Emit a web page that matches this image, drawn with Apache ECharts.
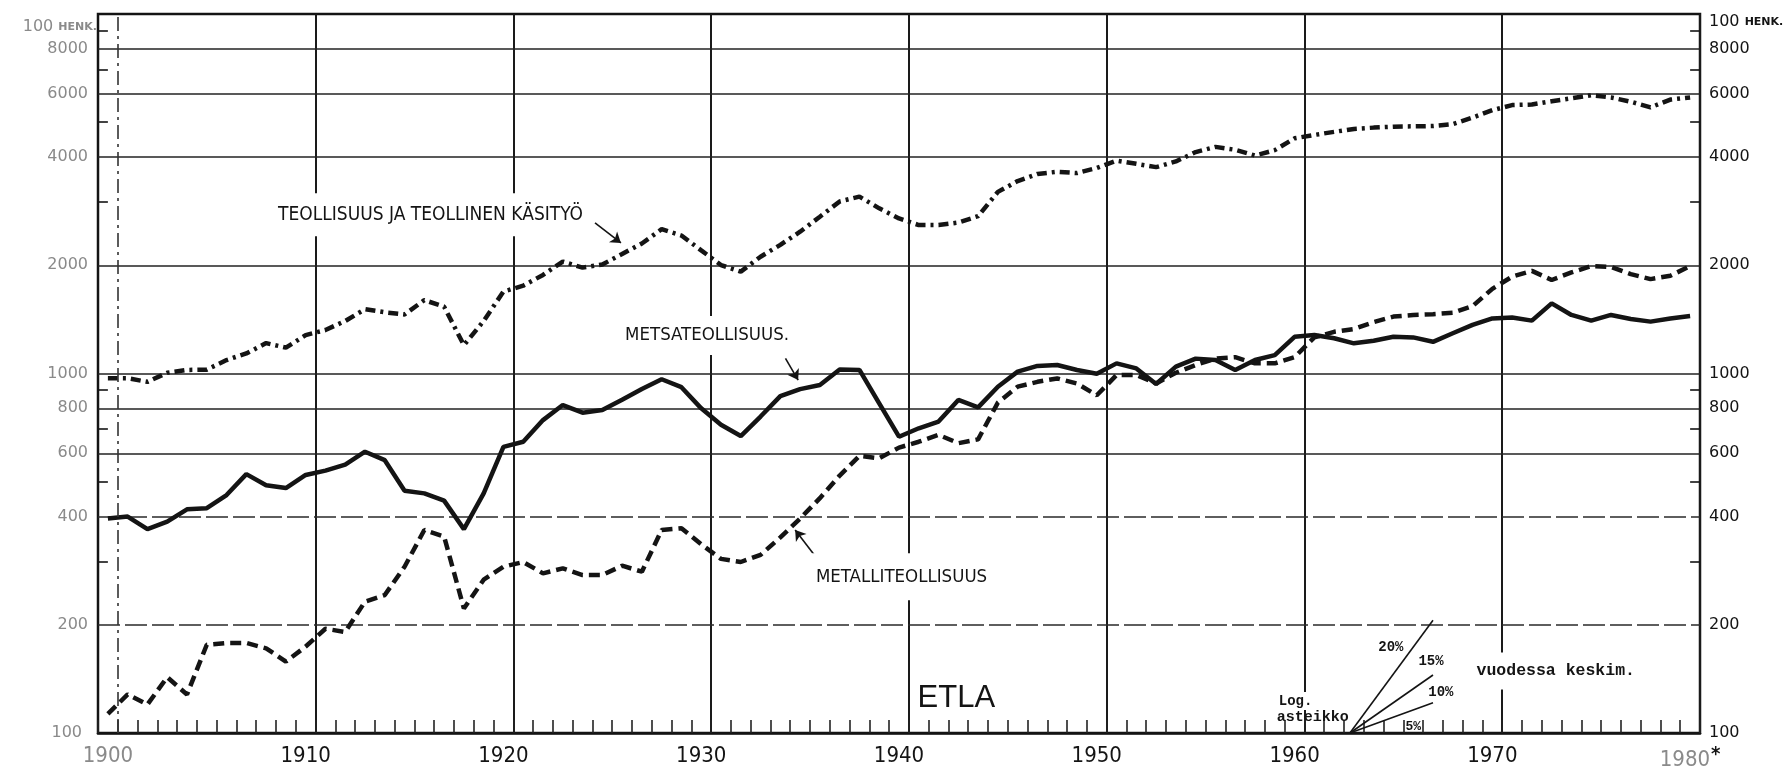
<!DOCTYPE html>
<html>
<head>
<meta charset="utf-8">
<script src="https://cdn.jsdelivr.net/npm/echarts@6/dist/echarts.min.js"></script>
<style>
html,body{margin:0;padding:0;background:#fff;}
#c{width:1792px;height:774px;}
</style>
</head>
<body>
<div id="c"></div>
<script>
// ---------- DATA ----------
const years = ['1900','1901','1902','1903','1904','1905','1906','1907','1908','1909',
  '1910','1911','1912','1913','1914','1915','1916','1917','1918','1919',
  '1920','1921','1922','1923','1924','1925','1926','1927','1928','1929',
  '1930','1931','1932','1933','1934','1935','1936','1937','1938','1939',
  '1940','1941','1942','1943','1944','1945','1946','1947','1948','1949',
  '1950','1951','1952','1953','1954','1955','1956','1957','1958','1959',
  '1960','1961','1962','1963','1964','1965','1966','1967','1968','1969',
  '1970','1971','1972','1973','1974','1975','1976','1977','1978','1979','1980'];

// Teollisuus ja teollinen käsityö (100 henk.)
const teollisuus = [970,970,948,1005,1023,1025,1090,1137,1215,1180,
  1279,1321,1400,1510,1480,1460,1600,1534,1199,1400,
  1690,1755,1880,2048,1970,2010,2150,2300,2520,2420,
  2200,2003,1920,2113,2280,2480,2730,3010,3104,2880,
  2700,2588,2588,2630,2740,3200,3430,3590,3640,3610,
  3730,3910,3830,3750,3890,4130,4270,4190,4040,4180,
  4510,4610,4700,4790,4830,4860,4870,4880,4940,5150,
  5400,5580,5600,5720,5830,5940,5860,5700,5500,5780,5860];

// Metsäteollisuus
const metsateollisuus = [395,400,369,387,419,422,459,525,489,480,
  522,537,558,606,574,472,464,443,369,464,
  625,646,742,817,778,791,845,905,964,916,
  800,720,670,759,865,905,929,1026,1023,826,
  667,704,735,844,805,919,1012,1050,1056,1023,
  998,1067,1033,935,1045,1100,1090,1023,1090,1125,
  1265,1279,1253,1213,1233,1265,1260,1225,1294,1365,
  1423,1432,1403,1567,1455,1403,1455,1418,1394,1423,1445];

// Metalliteollisuus
const metalliteollisuus = [113,128,120,143,128,176,178,178,172,158,
  174,195,191,232,242,290,367,352,222,267,
  290,299,278,287,275,275,292,281,367,371,
  335,305,299,313,350,395,450,520,590,581,
  622,646,675,640,656,830,919,948,969,938,
  870,990,990,938,1005,1056,1100,1110,1067,1067,
  1110,1260,1306,1330,1390,1440,1455,1462,1475,1540,
  1720,1860,1930,1820,1910,1990,1980,1890,1830,1870,1990];

// Axis tick labels
const yGridValues = [200, 400, 600, 800, 1000, 2000, 4000, 6000, 8000];
const yMinorTicks = [300, 500, 700, 900, 3000, 5000, 7000, 9000];
const topLabelValue = 10000;   // "100 HENK."
const bottomLabelValue = 100;

// ---------- STYLE ----------
const INK = '#141414';
const FADED = '#8a8a8a';
const NARROW = '"Liberation Sans Narrow","DejaVu Sans Condensed","Liberation Sans",sans-serif';
const MONO = '"Liberation Mono","DejaVu Sans Mono",monospace';
const YFONT = '"DejaVu Sans","Liberation Sans",sans-serif';

// annotation placements (year, value) on the chart's own scales
const textNotes = [
  {text:'TEOLLISUUS JA TEOLLINEN KÄSITYÖ', at:[1907.9, 2763], align:'left', font:NARROW, size:19, pad:[12,4], bg:true},
  {text:'METSATEOLLISUUS.', at:[1925.45, 1276], align:'left', font:NARROW, size:18.5, pad:[10,4], bg:true},
  {text:'METALLITEOLLISUUS', at:[1935.1, 272], align:'left', font:NARROW, size:18.5, pad:[14,4], bg:true},
  {text:'ETLA', at:[1942.4, 125], align:'center', font:'"Liberation Sans",sans-serif', size:31, pad:[0,0], bg:false},
  {text:'Log.', at:[1958.6, 122.7], align:'left', font:MONO, size:14, pad:[2,2], bg:true, bold:true},
  {text:'asteikko', at:[1958.6, 110.8], align:'left', font:MONO, size:15, pad:[0,0], bg:false, bold:true},
  {text:'20%', at:[1964.37, 173.5], align:'center', font:MONO, size:14, pad:[0,0], bg:false, bold:true},
  {text:'15%', at:[1966.4, 158.6], align:'center', font:MONO, size:14, pad:[0,0], bg:false, bold:true},
  {text:'10%', at:[1966.9, 130], align:'center', font:MONO, size:14, pad:[0,0], bg:false, bold:true},
  {text:'5%', at:[1965.5, 103.9], align:'center', font:MONO, size:13, pad:[0,0], bg:false, bold:true},
  {text:'vuodessa keskim.', at:[1968.5, 148.8], align:'left', font:MONO, size:16.5, pad:[10,4], bg:true, bold:true}
];
const arrows = [
  [[1924.13, 2623], [1925.44, 2307]],
  [[1933.76, 1102], [1934.40, 959]],
  [[1935.21, 313], [1934.25, 367]]
];
const fanOrigin = [1962.3, 100];
const fanEnds = [[1966.5, 206], [1966.5, 145], [1966.5, 121.4]];

// ---------- CHART ----------
const chart = echarts.init(document.getElementById('c'), null, {renderer:'canvas'});

const leftLabelItems = yGridValues.map(v => ({
  yAxis: v,
  lineStyle: (v === 200 || v === 400) ? {type:[22,5], width:1.5, color:'#2a2a2a'} : {type:'solid', width:1.5, color:'#222'},
  label: {formatter: String(v)}
}));
leftLabelItems.push({yAxis: bottomLabelValue, lineStyle:{width:0, color:'rgba(0,0,0,0)'},
  label:{formatter:'100', padding:[0,6,24,0]}});
leftLabelItems.push({yAxis: topLabelValue, lineStyle:{width:0, color:'rgba(0,0,0,0)'},
  label:{formatter:'{n|100} {h|HENK.}', distance:1, padding:[26,0,0,0],
    rich:{n:{fontSize:16, color:FADED, fontFamily:YFONT}, h:{fontSize:11, fontWeight:'bold', color:FADED, fontFamily:YFONT}}}});

const rightLabelItems = yGridValues.map(v => ({
  yAxis: v, label: {formatter: String(v)}
}));
rightLabelItems.push({yAxis: bottomLabelValue, label:{formatter:'100', padding:[0,0,18,0]}});
rightLabelItems.push({yAxis: topLabelValue, label:{formatter:'{n|100} {h|HENK.}', padding:[16,0,0,0],
  rich:{n:{fontSize:16, color:INK, fontFamily:YFONT}, h:{fontSize:11, fontWeight:'bold', color:INK, fontFamily:YFONT}}}});

const tickItems = [];
yMinorTicks.forEach(v => {
  tickItems.push([{coord:[1899, v]}, {coord:[1899.5, v]}]);
  tickItems.push([{coord:[1979.5, v]}, {coord:[1980, v]}]);
});

const option = {
  animation: false,
  backgroundColor: '#ffffff',
  grid: {left: 98, right: 92, top: 14, bottom: 41, show: true,
    borderColor: INK, borderWidth: 2.5, backgroundColor: 'rgba(0,0,0,0)'},
  xAxis: [
    {
      type: 'category', data: years, boundaryGap: true, position: 'bottom',
      axisLine: {show: true, lineStyle: {color: INK, width: 2.5}},
      axisTick: {show: true, inside: true, length: 13, interval: 0, lineStyle: {color: '#222', width: 1.6}},
      axisLabel: {
        interval: (i, v) => Number(v) % 10 === 0,
        margin: 12,
        formatter: v => v === '1900' ? '{f|1900}' : (v === '1980' ? '{f|1980}{s|*}' : '{d|' + v + '}'),
        rich: {
          d: {fontFamily: NARROW, fontSize: 22, color: INK},
          f: {fontFamily: NARROW, fontSize: 22, color: FADED},
          s: {fontFamily: NARROW, fontSize: 20, color: INK, fontWeight: 'bold', verticalAlign: 'top', padding: [0, 0, 10, 1]}
        }
      },
      splitLine: {show: true, interval: (i, v) => (Number(v) - 1) % 10 === 0 && v !== '1901',
        lineStyle: {color: '#1a1a1a', width: 2}}
    },
    {type: 'value', min: 1899, max: 1980, show: false}
  ],
  yAxis: [{
    type: 'log', logBase: 10, min: 100, max: 10000,
    axisLine: {show: false}, axisTick: {show: false}, axisLabel: {show: false}, splitLine: {show: false}
  }],
  series: [
    {
      name: 'TEOLLISUUS JA TEOLLINEN KÄSITYÖ', type: 'line', data: teollisuus,
      xAxisIndex: 0, yAxisIndex: 0, symbol: 'none', z: 5,
      lineStyle: {color: INK, width: 4.5, type: [10, 5, 3, 5]}
    },
    {
      name: 'METSATEOLLISUUS', type: 'line', data: metsateollisuus,
      xAxisIndex: 0, yAxisIndex: 0, symbol: 'none', z: 5,
      lineStyle: {color: INK, width: 4.5, type: 'solid'}
    },
    {
      name: 'METALLITEOLLISUUS', type: 'line', data: metalliteollisuus,
      xAxisIndex: 0, yAxisIndex: 0, symbol: 'none', z: 5,
      lineStyle: {color: INK, width: 4.5, type: [11, 6]}
    },
    // horizontal grid + left labels
    {
      type: 'line', data: [], xAxisIndex: 1, yAxisIndex: 0, z: 1, silent: true,
      markLine: {
        silent: true, symbol: ['none', 'none'], z: 1,
        label: {show: true, position: 'start', distance: 10, color: FADED, fontSize: 16, fontFamily: YFONT},
        lineStyle: {color: '#222', width: 1.5, type: 'solid'},
        data: leftLabelItems
      }
    },
    // right labels
    {
      type: 'line', data: [], xAxisIndex: 1, yAxisIndex: 0, z: 1, silent: true,
      markLine: {
        silent: true, symbol: ['none', 'none'], z: 1,
        label: {show: true, position: 'end', distance: 9, color: INK, fontSize: 16, fontFamily: YFONT},
        lineStyle: {width: 0, color: 'rgba(0,0,0,0)'},
        data: rightLabelItems
      }
    },
    // axis minor ticks, 1900 line, fan lines, arrows
    {
      type: 'line', data: [], xAxisIndex: 1, yAxisIndex: 0, z: 6, silent: true,
      markLine: {
        silent: true, symbol: ['none', 'none'], z: 6,
        label: {show: false},
        lineStyle: {color: INK, width: 1.6, type: 'solid'},
        data: [].concat(
          tickItems,
          [{xAxis: 1900, lineStyle: {type: [14, 5, 3, 5], width: 1.6, color: '#333'}}],
          fanEnds.map(e => [{coord: fanOrigin}, {coord: e}]),
          arrows.map(a => [{coord: a[0], symbol: 'none'}, {coord: a[1], symbol: 'arrow', symbolSize: 10}])
        )
      }
    },
    // text annotations
    {
      type: 'line', data: [], xAxisIndex: 1, yAxisIndex: 0, z: 7, silent: true,
      markPoint: {
        silent: true, symbol: 'rect', symbolSize: 1, z: 7,
        itemStyle: {color: 'rgba(0,0,0,0)'},
        data: textNotes.map(n => ({
          coord: n.at,
          label: {
            show: true, position: 'inside', formatter: n.text,
            align: n.align, verticalAlign: 'middle',
            fontFamily: n.font, fontSize: n.size, color: INK,
            fontWeight: n.bold ? 'bold' : 'normal',
            backgroundColor: n.bg ? '#ffffff' : 'transparent',
            padding: n.pad
          }
        }))
      }
    }
  ]
};
chart.setOption(option);
</script>
</body>
</html>
